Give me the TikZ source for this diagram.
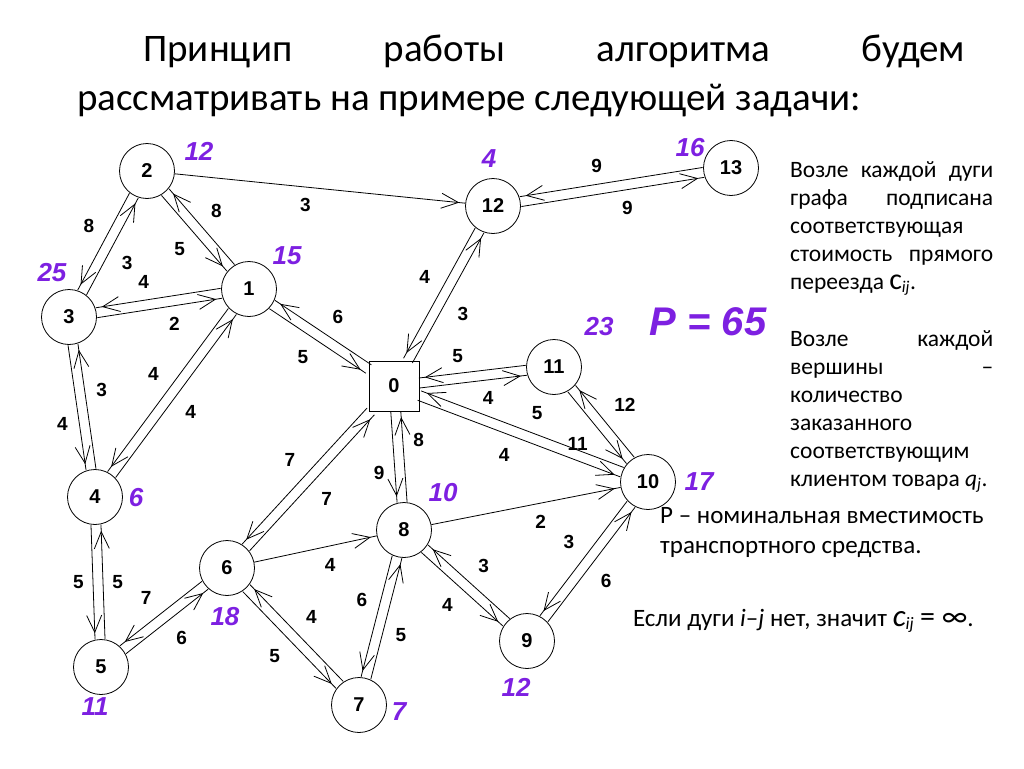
\documentclass[tikz,border=0pt]{standalone}
\usepackage{fontspec}
\setmainfont{Carlito}
\newfontfamily\arialfont{Liberation Sans}
\usetikzlibrary{arrows.meta,calc,decorations.markings}
\definecolor{demandcol}{RGB}{125,32,225}

\tikzset{
  vertex/.style={circle, draw, line width=0.8pt, minimum size=55pt, inner sep=0pt,
    font=\arialfont\bfseries\fontsize{20}{20}\selectfont},
  depot/.style={rectangle, draw, line width=0.8pt, minimum size=50pt, inner sep=0pt,
    font=\arialfont\bfseries\fontsize{20}{20}\selectfont},
  arc/.style={line width=0.8pt, postaction={decorate},
    decoration={markings, mark=at position -6pt with {\arrow{Straight Barb[length=17pt,width=15pt]}}}},
  fwd/.style 2 args={transform canvas={shift={($(#1)!5pt!-90:(#2)-(#1)$)}}},
  cost/.style={auto, swap, inner sep=9pt, font=\arialfont\bfseries\fontsize{19}{19}\selectfont},
  demand/.style={text=demandcol, inner sep=0pt, font=\arialfont\bfseries\itshape\fontsize{26}{26}\selectfont},
}

\begin{document}
\begin{tikzpicture}[x=1pt, y=-1pt]
  \useasboundingbox (0,0) rectangle (1024,768);

  % title
  \node[anchor=base west, text width=888pt, align=justify, inner sep=0pt,
    font=\fontsize{39}{48}\selectfont] (title) at (77,62)
    {\hspace*{66pt}Принцип работы алгоритма будем\linebreak
     рассматривать на примере следующей задачи:};

  % vertices
  \node[depot] (v0) at (394,386) {0};
  \node[vertex] (v1) at (249,289) {1};
  \node[vertex] (v2) at (147,171) {2};
  \node[vertex] (v3) at (69,317) {3};
  \node[vertex] (v4) at (95,497) {4};
  \node[vertex] (v5) at (101,667) {5};
  \node[vertex] (v6) at (227,568) {6};
  \node[vertex] (v7) at (359,705) {7};
  \node[vertex] (v8) at (404,530) {8};
  \node[vertex] (v9) at (527,641) {9};
  \node[vertex] (v10) at (648,482) {10};
  \node[vertex] (v11) at (554,367) {11};
  \node[vertex] (v12) at (493,206) {12};
  \node[vertex] (v13) at (731,168) {13};

  % demands
  \node[demand] (q1) at (287,256) {15};
  \node[demand] (q2) at (199,151) {12};
  \node[demand] (q3) at (52,273) {25};
  \node[demand] (q4) at (136,498) {6};
  \node[demand] (q5) at (95,707) {11};
  \node[demand] (q6) at (225,617) {18};
  \node[demand] (q7) at (399,712) {7};
  \node[demand] (q8) at (443,493) {10};
  \node[demand] (q9) at (516,687) {12};
  \node[demand] (q10) at (699,482) {17};
  \node[demand] (q11) at (599,327) {23};
  \node[demand] (q12) at (489,159) {4};
  \node[demand] (q13) at (690,148) {16};
  \node[demand, font=\arialfont\bfseries\itshape\fontsize{40}{40}\selectfont] (cap) at (708,322) {P = 65};

  % arcs
  \draw[arc] (v2) -- node[cost] {3} (v12);
  \draw[arc, fwd={v13}{v12}] (v13) -- node[cost] {9} (v12);
  \draw[arc, fwd={v12}{v13}] (v12) -- node[cost] {9} (v13);
  \draw[arc, fwd={v2}{v1}] (v2) -- node[cost] {5} (v1);
  \draw[arc, fwd={v1}{v2}] (v1) -- node[cost] {8} (v2);
  \draw[arc, fwd={v2}{v3}] (v2) -- node[cost] {8} (v3);
  \draw[arc, fwd={v3}{v2}] (v3) -- node[cost] {3} (v2);
  \draw[arc, fwd={v1}{v3}] (v1) -- node[cost] {4} (v3);
  \draw[arc, fwd={v3}{v1}] (v3) -- node[cost] {2} (v1);
  \draw[arc, fwd={v3}{v4}] (v3) -- node[cost] {4} (v4);
  \draw[arc, fwd={v4}{v3}] (v4) -- node[cost] {3} (v3);
  \draw[arc, fwd={v1}{v4}] (v1) -- node[cost] {4} (v4);
  \draw[arc, fwd={v4}{v1}] (v4) -- node[cost] {4} (v1);
  \draw[arc, fwd={v0}{v1}] (v0) -- node[cost] {6} (v1);
  \draw[arc, fwd={v1}{v0}] (v1) -- node[cost] {5} (v0);
  \draw[arc, fwd={v12}{v0}] (v12) -- node[cost] {4} (v0);
  \draw[arc, fwd={v0}{v12}] (v0) -- node[cost] {3} (v12);
  \draw[arc, fwd={v11}{v0}] (v11) -- node[cost] {5} (v0);
  \draw[arc, fwd={v0}{v11}] (v0) -- node[cost] {4} (v11);
  \draw[arc, fwd={v10}{v0}] (v10) -- node[cost] {5} (v0);
  \draw[arc, fwd={v0}{v10}] (v0) -- node[cost] {4} (v10);
  \draw[arc, fwd={v11}{v10}] (v11) -- node[cost] {11} (v10);
  \draw[arc, fwd={v10}{v11}] (v10) -- node[cost] {12} (v11);
  \draw[arc] (v8) -- node[cost] {2} (v10);
  \draw[arc, fwd={v10}{v9}] (v10) -- node[cost] {3} (v9);
  \draw[arc, fwd={v9}{v10}] (v9) -- node[cost] {6} (v10);
  \draw[arc, fwd={v9}{v8}] (v9) -- node[cost] {3} (v8);
  \draw[arc, fwd={v8}{v9}] (v8) -- node[cost] {4} (v9);
  \draw[arc, fwd={v0}{v8}] (v0) -- node[cost] {9} (v8);
  \draw[arc, fwd={v8}{v0}] (v8) -- node[cost] {8} (v0);
  \draw[arc, fwd={v0}{v6}] (v0) -- node[cost] {7} (v6);
  \draw[arc, fwd={v6}{v0}] (v6) -- node[cost] {7} (v0);
  \draw[arc] (v6) -- node[cost] {4} (v8);
  \draw[arc, fwd={v8}{v7}] (v8) -- node[cost] {6} (v7);
  \draw[arc, fwd={v7}{v8}] (v7) -- node[cost] {5} (v8);
  \draw[arc, fwd={v7}{v6}] (v7) -- node[cost] {4} (v6);
  \draw[arc, fwd={v6}{v7}] (v6) -- node[cost] {5} (v7);
  \draw[arc, fwd={v6}{v5}] (v6) -- node[cost] {7} (v5);
  \draw[arc, fwd={v5}{v6}] (v5) -- node[cost] {6} (v6);
  \draw[arc, fwd={v4}{v5}] (v4) -- node[cost] {5} (v5);
  \draw[arc, fwd={v5}{v4}] (v5) -- node[cost] {5} (v4);

  % notes
  \node[anchor=base west, text width=203pt, align=justify, inner sep=0pt,
    font=\fontsize{23.5}{28}\selectfont] (note) at (790,177)
    {\hyphenpenalty=10000
     Возле каждой дуги\linebreak
     графа подписана\linebreak
     соответствующая\linebreak
     стоимость прямого\linebreak
     переезда {\fontsize{30}{30}\selectfont c}\textsubscript{\itshape ij}.\par
     \vspace{29pt}
     Возле каждой\linebreak
     вершины –\linebreak
     количество\linebreak
     заказанного\linebreak
     соответствующим\linebreak
     клиентом товара \textit{q}\textsubscript{\itshape j}.};
  \node[anchor=base west, align=left, inner sep=0pt,
    font=\fontsize{25}{30}\selectfont] (capnote) at (660,553)
    {P – номинальная вместимость\\ транспортного средства.};
  \node[anchor=base west, inner sep=0pt,
    font=\fontsize{25}{30}\selectfont] (infnote) at (633,626)
    {Если дуги \textit{i}–\textit{j} нет, значит {\fontsize{31}{31}\selectfont\textit{c}}\textsubscript{\itshape ij} {\fontsize{30}{30}\selectfont = ∞}.};
\end{tikzpicture}
\end{document}
